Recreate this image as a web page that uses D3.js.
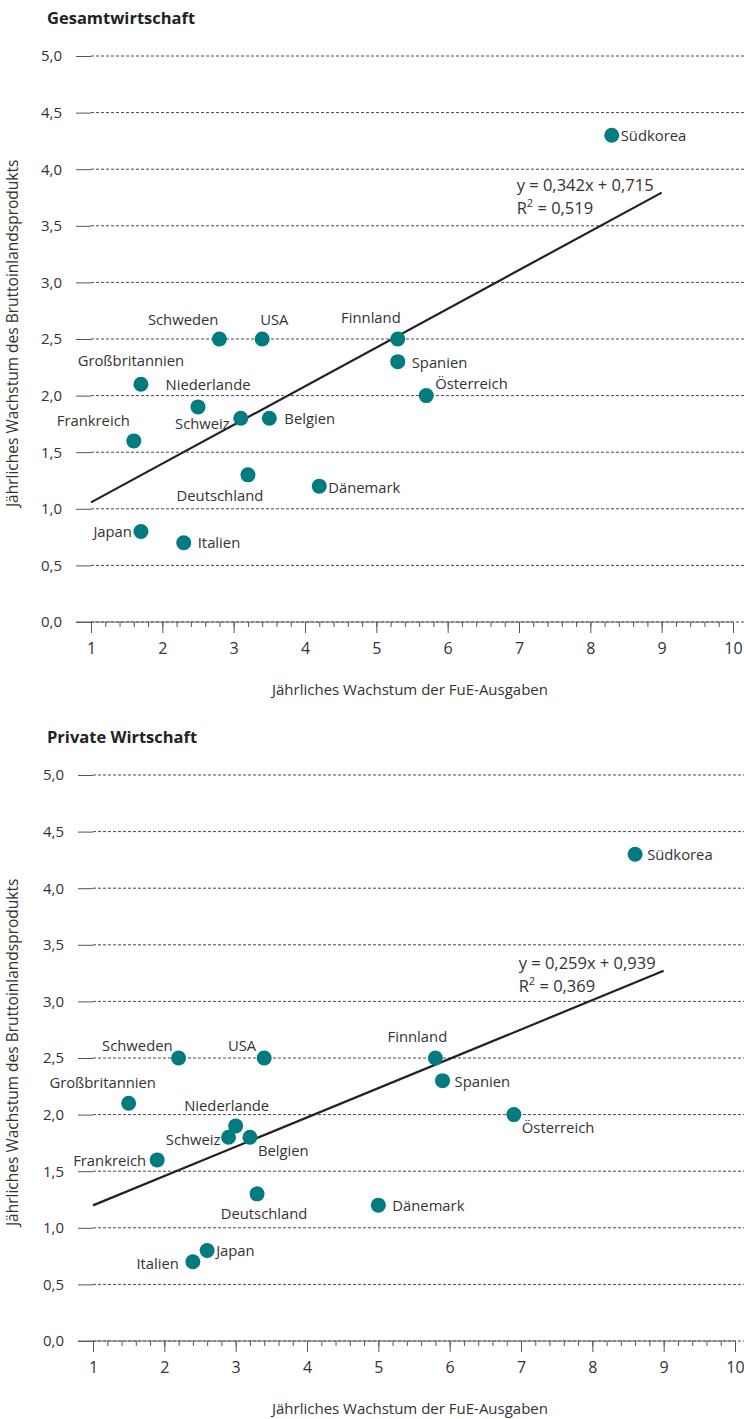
<!DOCTYPE html>
<html>
<head>
<meta charset="utf-8">
<script src="https://cdn.jsdelivr.net/npm/d3@7"></script>
<style>
  body { margin: 0; background: #fff; }
  text { font-family: "Open Sans", "Noto Sans", sans-serif; }
</style>
</head>
<body>
<svg id="chart" width="744" height="1419"></svg>
<script>
const countries = ['Südkorea', 'Finnland', 'Spanien', 'Österreich', 'Schweden', 'USA', 'Großbritannien',
  'Niederlande', 'Schweiz', 'Belgien', 'Frankreich', 'Deutschland', 'Dänemark', 'Japan', 'Italien'];

// x: jährliches Wachstum der FuE-Ausgaben, y: jährliches Wachstum des BIP
const fueGesamt = [8.3, 5.3, 5.3, 5.7, 2.8, 3.4, 1.7, 2.5, 3.1, 3.5, 1.6, 3.2, 4.2, 1.7, 2.3];
const bipGesamt = [4.3, 2.5, 2.3, 2.0, 2.5, 2.5, 2.1, 1.9, 1.8, 1.8, 1.6, 1.3, 1.2, 0.8, 0.7];
const fuePrivat = [8.6, 5.8, 5.9, 6.9, 2.2, 3.4, 1.5, 3.0, 2.9, 3.2, 1.9, 3.3, 5.0, 2.6, 2.4];
const bipPrivat = [4.3, 2.5, 2.3, 2.0, 2.5, 2.5, 2.1, 1.9, 1.8, 1.8, 1.6, 1.3, 1.2, 0.8, 0.7];

const trendGesamt = [0.342, 0.715, 0.519];   // slope, intercept, R²
const trendPrivat = [0.259, 0.939, 0.369];
const trendRange = [1, 9];

const xTicks = [1, 2, 3, 4, 5, 6, 7, 8, 9, 10];
const yTicks = [0, 0.5, 1, 1.5, 2, 2.5, 3, 3.5, 4, 4.5, 5];

const titles = ['Gesamtwirtschaft', 'Private Wirtschaft'];
const xTitle = 'Jährliches Wachstum der FuE-Ausgaben';
const yTitle = 'Jährliches Wachstum des Bruttoinlandsprodukts';

// label placement per country: [dx, dy, anchor]
const labelsGesamt = [
  [9, 1, 'start'], [3, -21, 'end'], [14, 1, 'start'], [9, -12, 'start'], [-1, -19, 'end'],
  [-2, -19, 'start'], [-10, -23, 'middle'], [10, -22, 'middle'], [-11, 6, 'end'], [15, 1, 'start'],
  [-4, -20, 'end'], [-28, 21, 'middle'], [9, 2, 'start'], [-9, 0, 'end'], [14, 0, 'start']
];
const labelsPrivat = [
  [12, 1, 'start'], [-18, -21, 'middle'], [12, 1, 'start'], [8, 13, 'start'], [-6, -12, 'end'],
  [-8, -12, 'end'], [-26, -20, 'middle'], [-9, -20, 'middle'], [-8, 3, 'end'], [8, 14, 'start'],
  [-11, 1, 'end'], [7, 20, 'middle'], [14, 1, 'start'], [9, 0, 'start'], [-14, 2, 'end']
];

const dotColor = '#007b80';
const fmt = d => d3.format('.1f')(d).replace('.', ',');
const fmt3 = d => d3.format('.3f')(d).replace('.', ',');

const svg = d3.select('#chart');

function drawPanel(top, left, title, xs, ys, trend, labels) {
  const g = svg.append('g').attr('transform', `translate(0,${top})`);

  const x = d3.scaleLinear().domain([1, 10]).range([left, left + 642]);
  const y = d3.scaleLinear().domain([0, 5]).range([566, 0]);

  g.append('text')
    .attr('x', 47).attr('y', -32)
    .attr('font-size', 16.5).attr('font-weight', 'bold').attr('fill', '#222')
    .text(title);

  // dashed grid
  g.append('g').selectAll('line')
    .data(yTicks)
    .join('line')
    .attr('x1', left).attr('x2', 744)
    .attr('y1', d => y(d)).attr('y2', d => y(d))
    .attr('stroke', '#333').attr('stroke-width', 0.9)
    .attr('stroke-dasharray', '3,2');

  // y axis
  const yAxis = g.append('g')
    .attr('transform', `translate(${left},0)`)
    .call(d3.axisLeft(y).tickValues(yTicks).tickFormat(fmt).tickSize(15).tickPadding(14));
  yAxis.select('.domain').remove();
  yAxis.selectAll('.tick line').attr('stroke', '#555');
  yAxis.selectAll('.tick text').attr('font-size', 15).attr('fill', '#333')
    .style('font-family', '"Open Sans", sans-serif');

  // x axis baseline
  g.append('line')
    .attr('x1', left - 15).attr('x2', x(10))
    .attr('y1', y(0)).attr('y2', y(0))
    .attr('stroke', '#666').attr('stroke-width', 1.2);

  // minor ticks
  const minorAxis = g.append('g')
    .attr('transform', `translate(0,${y(0)})`)
    .call(d3.axisBottom(x).tickValues(d3.range(1, 10.01, 0.2)).tickFormat('').tickSize(5));
  minorAxis.select('.domain').remove();
  minorAxis.selectAll('.tick line').attr('stroke', '#555');

  const xAxis = g.append('g')
    .attr('transform', `translate(0,${y(0)})`)
    .call(d3.axisBottom(x).tickValues(xTicks).tickSize(11).tickPadding(10));
  xAxis.select('.domain').remove();
  xAxis.selectAll('.tick line').attr('stroke', '#555');
  xAxis.selectAll('.tick text').attr('font-size', 16).attr('fill', '#333')
    .style('font-family', '"Liberation Sans Narrow", "Open Sans", sans-serif');

  g.append('text')
    .attr('x', 410).attr('y', y(0) + 73)
    .attr('text-anchor', 'middle')
    .attr('font-size', 15).attr('fill', '#333')
    .text(xTitle);

  g.append('text')
    .attr('transform', `translate(18,${y(2.55)}) rotate(-90)`)
    .attr('text-anchor', 'middle')
    .attr('font-size', 15.5).attr('fill', '#333')
    .text(yTitle);

  // trend line
  const [m, b, r2] = trend;
  g.append('line')
    .attr('x1', x(trendRange[0])).attr('y1', y(m * trendRange[0] + b))
    .attr('x2', x(trendRange[1])).attr('y2', y(m * trendRange[1] + b))
    .attr('stroke', '#222').attr('stroke-width', 2.2);

  const eqX = x(trendRange[1]) - 145;
  const eq = g.append('text')
    .attr('x', eqX).attr('y', y(m * trendRange[1] + b) - 2)
    .attr('font-size', 16.5).attr('fill', '#333');
  eq.append('tspan').text(`y = ${fmt3(m)}x + ${fmt3(b)}`);
  eq.append('tspan').attr('x', eqX).attr('dy', 23).text('R');
  eq.append('tspan').attr('dy', -7).attr('font-size', 11).text('2');
  eq.append('tspan').attr('dy', 7).text(` = ${fmt3(r2)}`);

  // points
  const pts = countries.map((c, i) => ({ c, x: xs[i], y: ys[i], l: labels[i] }));
  g.append('g').selectAll('circle')
    .data(pts)
    .join('circle')
    .attr('cx', d => x(d.x)).attr('cy', d => y(d.y))
    .attr('r', 7.5)
    .attr('fill', dotColor);

  g.append('g').selectAll('text')
    .data(pts)
    .join('text')
    .attr('x', d => x(d.x) + d.l[0])
    .attr('y', d => y(d.y) + d.l[1])
    .attr('dy', '0.35em')
    .attr('text-anchor', d => d.l[2])
    .attr('font-size', 14.8).attr('fill', '#333')
    .text(d => d.c);
}

drawPanel(56, 91, titles[0], fueGesamt, bipGesamt, trendGesamt, labelsGesamt);
drawPanel(775, 93, titles[1], fuePrivat, bipPrivat, trendPrivat, labelsPrivat);
</script>
</body>
</html>
